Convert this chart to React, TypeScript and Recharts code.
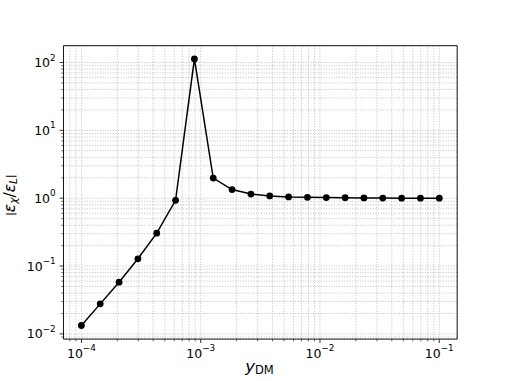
import React from 'react';
import { LineChart, Line, XAxis, YAxis, CartesianGrid, ReferenceArea, Customized } from 'recharts';

// x values (y_DM)
const yDM = [
  1.0e-4, 1.438e-4, 2.069e-4, 2.976e-4, 4.281e-4, 6.158e-4, 8.859e-4,
  1.274e-3, 1.833e-3, 2.637e-3, 3.793e-3, 5.456e-3, 7.848e-3,
  1.129e-2, 1.624e-2, 2.336e-2, 3.36e-2, 4.833e-2, 6.952e-2, 1.0e-1,
];
// |eps_chi / eps_L|
const ratio = [
  0.0133, 0.0277, 0.0578, 0.128, 0.305, 0.93, 113,
  1.98, 1.34, 1.15, 1.08, 1.045, 1.03,
  1.02, 1.015, 1.01, 1.005, 1.0, 1.0, 1.0,
];

const xMajorTicks = [1e-4, 1e-3, 1e-2, 1e-1];
const yMajorTicks = [1e-2, 1e-1, 1e0, 1e1, 1e2];
const xDomain: [number, number] = [7.08e-5, 0.1413];
const yDomain: [number, number] = [0.00838, 177];

const minorFactors = [2, 3, 4, 5, 6, 7, 8, 9];
function withMinors(majors: number[], domain: [number, number]) {
  const out: number[] = [];
  const first = majors[0] / 10;
  [first, ...majors].forEach((m) => {
    minorFactors.forEach((f) => {
      const v = m * f;
      if (v >= domain[0] && v <= domain[1]) out.push(v);
    });
  });
  majors.forEach((m) => out.push(m));
  return out.sort((a, b) => a - b);
}
const xTicks = withMinors(xMajorTicks, xDomain);
const yTicks = withMinors(yMajorTicks, yDomain);

const data = yDM.map((x, i) => ({ x, y: ratio[i] }));

const FONT = 'DejaVu Sans';
const TICK_FS = 12.5;
const SUP_FS = 8.8;
const isMajor = (v: number) => Math.abs(Math.log10(v) - Math.round(Math.log10(v))) < 1e-6;
const expLabel = (v: number) => {
  const e = Math.round(Math.log10(v));
  return e < 0 ? `\u2212${-e}` : `${e}`;
};

const XTick = (props: any) => {
  const { x, y, payload } = props;
  const v = payload.value;
  const major = isMajor(v);
  return (
    <g>
      <line x1={x} x2={x} y1={y} y2={y + (major ? 3.9 : 2.2)} stroke="#000" strokeWidth={major ? 0.8 : 0.6} />
      {major && (
        <text x={x} y={y + 18.5} textAnchor="middle" fontFamily={FONT} fontSize={TICK_FS} fill="#000">
          <tspan>10</tspan>
          <tspan dy={-6.5} fontSize={SUP_FS}>{expLabel(v)}</tspan>
        </text>
      )}
    </g>
  );
};

const YTick = (props: any) => {
  const { x, y, payload } = props;
  const v = payload.value;
  const major = isMajor(v);
  return (
    <g>
      <line x1={x - (major ? 3.9 : 2.2)} x2={x} y1={y} y2={y} stroke="#000" strokeWidth={major ? 0.8 : 0.6} />
      {major && (
        <text x={x - 7.8} y={y + 4.6} textAnchor="end" fontFamily={FONT} fontSize={TICK_FS} fill="#000">
          <tspan>10</tspan>
          <tspan dy={-6.5} fontSize={SUP_FS}>{expLabel(v)}</tspan>
        </text>
      )}
    </g>
  );
};

const AxisLabels = () => (
  <g>
    <text x={259.5} y={371.5} textAnchor="middle" fontFamily={FONT} fontSize={16.5} fill="#000">
      <tspan fontStyle="italic">y</tspan>
      <tspan fontSize={11.5} dy={2.5}>DM</tspan>
    </text>
    <text
      x={14.5}
      y={195}
      transform="rotate(-90, 14.5, 195)"
      textAnchor="middle"
      fontFamily={FONT}
      fontSize={15.4}
      fill="#000"
    >
      <tspan fontSize={10.5} dy={-1}>|</tspan>
      <tspan fontStyle="italic" dy={1}>ε</tspan>
      <tspan fontStyle="italic" fontSize={10.8} dy={2.5}>χ</tspan>
      <tspan dy={-2.5}>/</tspan>
      <tspan fontStyle="italic">ε</tspan>
      <tspan fontStyle="italic" fontSize={10.8} dy={2.5}>L</tspan>
      <tspan fontSize={10.5} dy={-3.5}>|</tspan>
    </text>
  </g>
);

export default function App() {
  return (
    <div style={{ position: 'absolute', left: 0, top: 0, background: '#fff' }}>
      <LineChart
        width={508}
        height={381}
        data={data}
        margin={{ top: 45.7, right: 50.8, left: 0, bottom: 0 }}
      >
        <CartesianGrid stroke="#b0b0b0" strokeWidth={0.8} strokeDasharray="1 1.6" />
        <XAxis
          dataKey="x"
          type="number"
          scale="log"
          domain={xDomain}
          allowDataOverflow
          ticks={xTicks}
          interval={0}
          tick={<XTick />}
          tickLine={false}
          axisLine={false}
          tickSize={0}
          tickMargin={0}
          height={41.9}
        />
        <YAxis
          dataKey="y"
          type="number"
          scale="log"
          domain={yDomain}
          allowDataOverflow
          ticks={yTicks}
          interval={0}
          tick={<YTick />}
          tickLine={false}
          axisLine={false}
          tickSize={0}
          tickMargin={0}
          width={63.5}
        />
        <ReferenceArea
          x1={xDomain[0]}
          x2={xDomain[1]}
          y1={yDomain[0]}
          y2={yDomain[1]}
          fill="none"
          stroke="#000"
          strokeWidth={0.9}
          ifOverflow="visible"
        />
        <Line
          dataKey="y"
          type="linear"
          stroke="#000"
          strokeWidth={1.5}
          dot={{ r: 3.4, fill: '#000', stroke: '#000', strokeWidth: 0 }}
          isAnimationActive={false}
        />
        <Customized component={AxisLabels} />
      </LineChart>
    </div>
  );
}
